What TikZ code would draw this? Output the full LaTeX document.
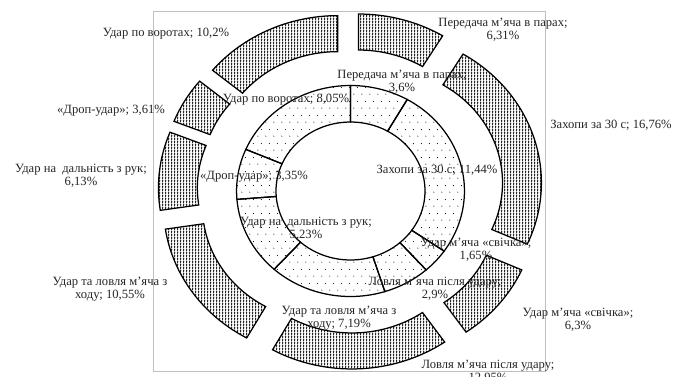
\documentclass[tikz,border=0pt]{standalone}
\usepackage{fontspec}
\setmainfont{Liberation Serif}
\usetikzlibrary{patterns}
\pgfdeclarepatternformonly{innerdots}{\pgfqpoint{0pt}{0pt}}{\pgfqpoint{8pt}{14pt}}{\pgfqpoint{8pt}{14pt}}{%
  \pgfpathcircle{\pgfqpoint{2pt}{3pt}}{0.6pt}%
  \pgfpathcircle{\pgfqpoint{6pt}{10pt}}{0.6pt}%
  \pgfusepath{fill}}
\pgfdeclarepatternformonly{outerhatch}{\pgfqpoint{0pt}{0pt}}{\pgfqpoint{3pt}{3pt}}{\pgfqpoint{3pt}{3pt}}{%
  \pgfpathrectangle{\pgfqpoint{0pt}{0pt}}{\pgfqpoint{1.3pt}{3pt}}%
  \pgfpathrectangle{\pgfqpoint{1.9pt}{1pt}}{\pgfqpoint{0.9pt}{0.9pt}}%
  \pgfusepath{fill}}
\tikzset{
  innerseg/.style={pattern=innerdots, pattern color=black, draw=black, line width=1.25pt, line join=miter},
  outerseg/.style={pattern=outerhatch, pattern color=black!85, draw=black, line width=1.25pt, line join=miter},
  lbl/.style={font=\fontsize{12.6}{13.5}\selectfont, align=center, inner sep=0pt, text=black!85},
}
\begin{document}
\begin{tikzpicture}[x=1pt,y=-1pt]
\useasboundingbox (0,0) rectangle (687,376);
\fill[white] (0,0) rectangle (687,376);
\draw[black!25, line width=0.8pt] (153,11.5) rectangle (545,371);
\begin{scope}[shift={(350.5,191)}, xscale=1.08]
  % inner ring
  \foreach \a/\b in {0/29.855, 29.855/124.727, 124.727/138.410, 138.410/162.460, 162.460/222.087, 222.087/265.459, 265.459/293.241, 293.241/360} {
    \draw[innerseg] (\a-90:105.5) arc[start angle=\a-90, end angle=\b-90, radius=105.5] -- (\b-90:69) arc[start angle=\b-90, end angle=\a-90, radius=69] -- cycle;
  }
  % outer ring (exploded)
  \foreach \a/\b in {0/31.199, 31.199/114.067, 114.067/145.216, 145.216/209.246, 209.246/261.409, 261.409/291.718, 291.718/309.567, 309.567/360} {
    \pgfmathsetmacro\m{(\a+\b)/2-90}
    \begin{scope}[shift={(\m:27.5)}]
      \draw[outerseg] (\a-90:150.5) arc[start angle=\a-90, end angle=\b-90, radius=150.5] -- (\b-90:114.5) arc[start angle=\b-90, end angle=\a-90, radius=114.5] -- cycle;
    \end{scope}
  }
\end{scope}
% outer labels
\node[lbl] (o1) at (503,30) {Передача м’яча в парах;\\6,31\%};
\node[lbl] (o2) at (611,125) {Захопи за 30 с; 16,76\%};
\node[lbl] (o3) at (578,320) {Удар м’яча «свічка»;\\6,3\%};
\node[lbl] (o4) at (488,372) {Ловля м’яча після удару;\\12,95\%};
\node[lbl] (o5) at (110,289) {Удар та ловля м’яча з\\ходу; 10,55\%};
\node[lbl] (o6) at (81,176) {Удар на\hspace{3pt} дальність з рук;\\6,13\%};
\node[lbl] (o7) at (111,111) {«Дроп-удар»; 3,61\%};
\node[lbl] (o8) at (166,34) {Удар по воротах; 10,2\%};
% inner labels
\node[lbl] (i1) at (402,82) {Передача м’яча в парах;\\3,6\%};
\node[lbl] (i2) at (437,170) {Захопи за 30 с; 11,44\%};
\node[lbl] (i3) at (476,250) {Удар м’яча «свічка»;\\1,65\%};
\node[lbl] (i4) at (435,289) {Ловля м’яча після удару;\\2,9\%};
\node[lbl] (i5) at (339,318) {Удар та ловля м’яча з\\ходу; 7,19\%};
\node[lbl] (i6) at (306,229) {Удар на\hspace{3pt} дальність з рук;\\5,23\%};
\node[lbl] (i7) at (254,177) {«Дроп-удар»; 3,35\%};
\node[lbl] (i8) at (286,100) {Удар по воротах; 8,05\%};
\end{tikzpicture}
\end{document}
